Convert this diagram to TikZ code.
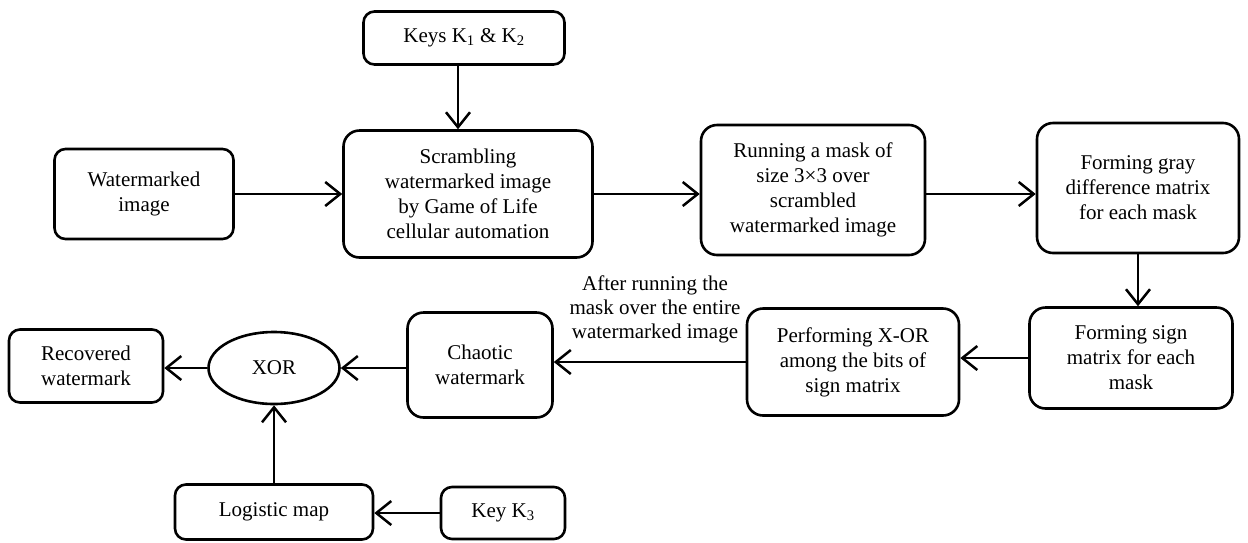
\documentclass[tikz,border=0pt]{standalone}
\usepackage{fontspec}
\setmainfont{Liberation Serif}
\usetikzlibrary{shapes.geometric,arrows.meta}
\begin{document}
\begin{tikzpicture}[x=1pt,y=-1pt,
  box/.style={draw,line width=2.6pt,rounded corners=16pt,align=center,inner sep=0pt,
    font=\fontsize{21}{25}\selectfont},
  sbox/.style={box,rounded corners=11pt},
  oval/.style={draw,ellipse,line width=2.6pt,inner sep=0pt,align=center,
    font=\fontsize{21}{25}\selectfont},
  arr/.style={line width=2.5pt,-{Straight Barb[length=15pt,width=24pt,line width=2.5pt]}},
  lbl/.style={align=center,inner sep=0pt,font=\fontsize{21}{24}\selectfont}]
\useasboundingbox (0,0) rectangle (1248,542);
% nodes
\node[sbox,minimum width=201pt,minimum height=53pt] (keys) at (464,38) {Keys K\textsubscript{1} \& K\textsubscript{2}};
\node[sbox,minimum width=179pt,minimum height=90pt] (wm) at (144,194) {Watermarked\\image};
\node[box,minimum width=249pt,minimum height=127pt] (scr) at (468,194) {Scrambling\\watermarked image\\by Game of Life\\cellular automation};
\node[box,minimum width=224pt,minimum height=130pt] (run) at (813,190) {Running a mask of\\size 3×3 over\\scrambled\\watermarked image};
\node[box,minimum width=202pt,minimum height=130pt] (gray) at (1138,188) {Forming gray\\difference matrix\\for each mask};
\node[box,minimum width=203pt,minimum height=101pt] (sign) at (1131,358) {Forming sign\\matrix for each\\mask};
\node[box,minimum width=212pt,minimum height=107pt] (perf) at (853,362) {Performing X-OR\\among the bits of\\sign matrix};
\node[box,minimum width=145pt,minimum height=105pt] (chao) at (480,365) {Chaotic\\watermark};
\node[oval,minimum width=131pt,minimum height=72pt] (xor) at (274,368) {XOR};
\node[sbox,minimum width=154pt,minimum height=73pt] (rec) at (86,366) {Recovered\\watermark};
\node[sbox,minimum width=198pt,minimum height=55pt] (logi) at (274,512) {Logistic map};
\node[sbox,minimum width=124pt,minimum height=52pt] (k3) at (503,513) {Key K\textsubscript{3}};
\node[lbl] (note) at (655,309) {After running the\\mask over the entire\\watermarked image};
% connectors
\draw[arr] ([xshift=-6pt]keys.south) -- ([xshift=-6pt]keys.south |- scr.north);
\draw[arr] (wm.east) -- (scr.west);
\draw[arr] (scr.east) -- (scr.east -| run.west);
\draw[arr] (run.east |- scr.east) -- (scr.east -| gray.west);
\draw[arr] (gray.south) -- (gray.south |- sign.north);
\draw[arr] (sign.west) -- (sign.west -| perf.east);
\draw[arr] (perf.west) -- (perf.west -| chao.east);
\draw[arr] (chao.west |- xor.east) -- (xor.east);
\draw[arr] (xor.west) -- (xor.west -| rec.east);
\draw[arr] (logi.north) -- (xor.south);
\draw[arr] (k3.west) -- (k3.west -| logi.east);
\end{tikzpicture}
\end{document}
